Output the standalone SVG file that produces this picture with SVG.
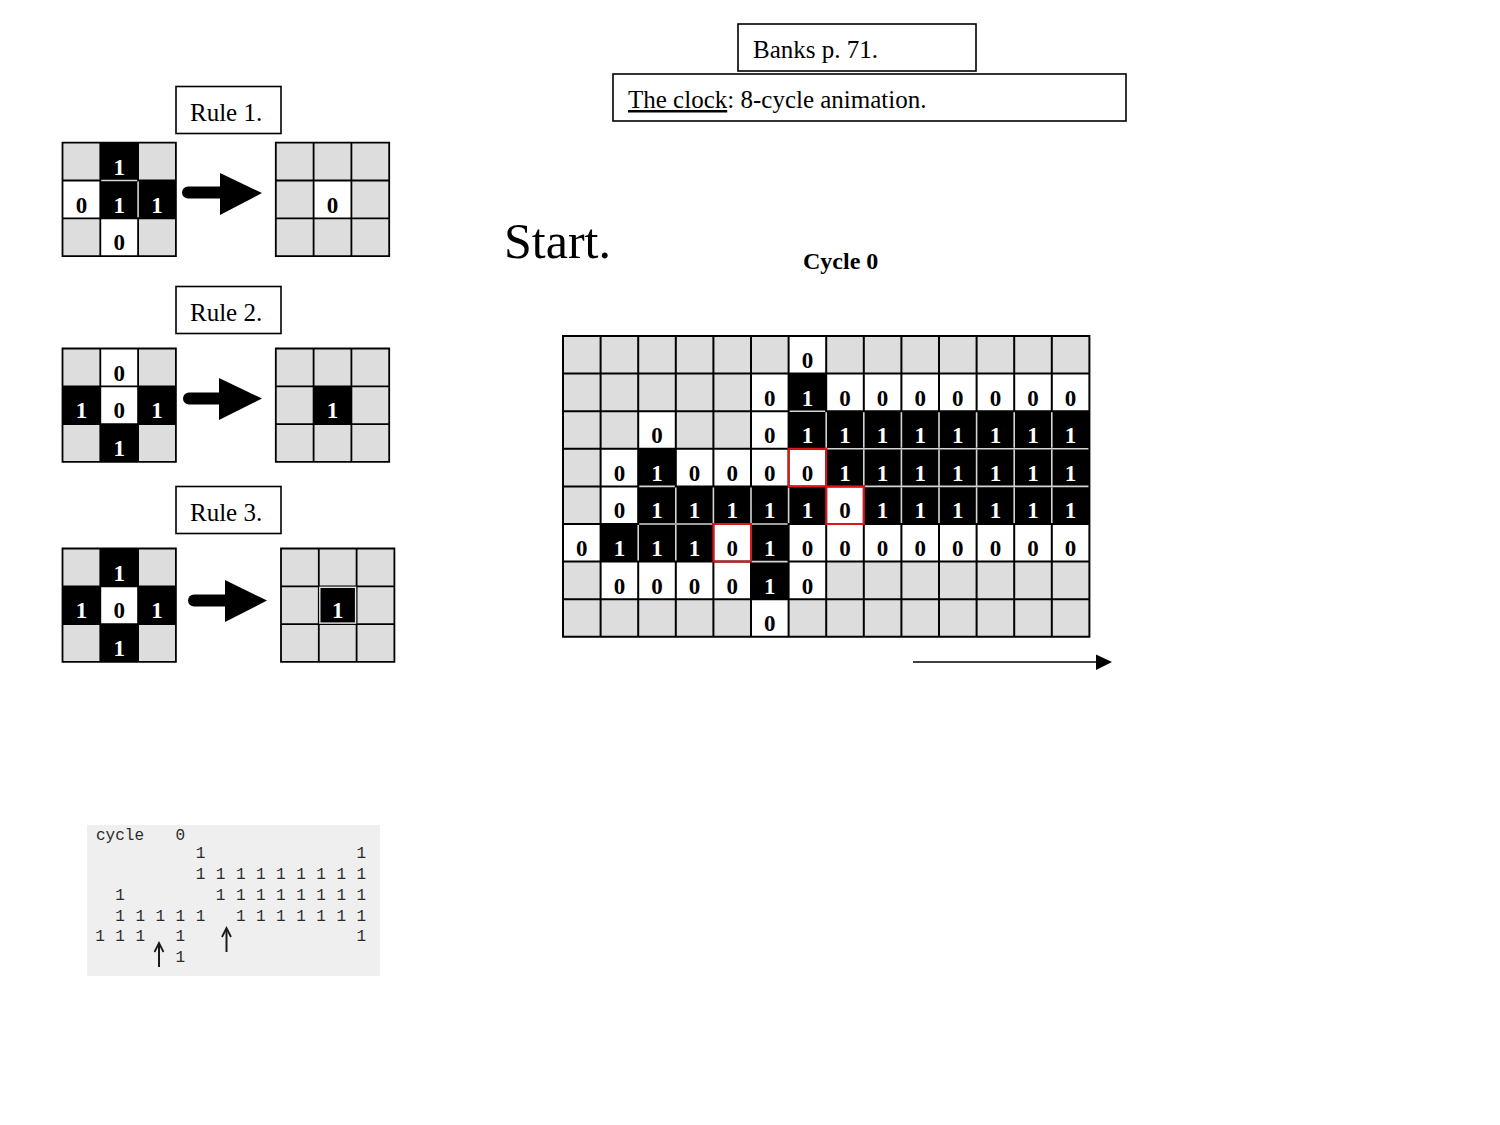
<svg xmlns="http://www.w3.org/2000/svg" width="1500" height="1125" viewBox="0 0 1500 1125">
<style>
.bg{fill:#ffffff}
.g{fill:#dddddd}
.w{fill:#ffffff}
.b{fill:#000000}
.gl{stroke:#000;stroke-width:2;fill:none}
.rgl{stroke:#000;stroke-width:1.8;fill:none}
.lt{stroke:#d4d4d4;stroke-width:1.6;fill:none}
.red{stroke:#e0141c;stroke-width:2;fill:none}
.box{fill:#fff;stroke:#000;stroke-width:1.6}
.lbl{font-family:"Liberation Serif","Times New Roman",serif;font-size:25px;fill:#000}
.d0{font-family:"Liberation Serif","Times New Roman",serif;font-size:23px;font-weight:bold;fill:#000;text-anchor:middle}
.d1{font-family:"Liberation Serif","Times New Roman",serif;font-size:23px;font-weight:bold;fill:#fff;text-anchor:middle}
.mono{font-family:"Liberation Mono","Courier New",monospace;font-size:16px;fill:#2a2a2a}
.monoc{font-family:"Liberation Mono","Courier New",monospace;font-size:16px;fill:#2a2a2a;text-anchor:middle}
</style>
<rect class="bg" x="0" y="0" width="1500" height="1125"/>

<!-- Titles -->
<g id="banks">
<rect class="box" x="738" y="24" width="238" height="47"/>
<text class="lbl" x="753" y="58">Banks p. 71.</text>
</g>
<g id="clock-title">
<rect class="box" x="613" y="74" width="513" height="47"/>
<text class="lbl" x="628" y="108"><tspan style="text-decoration:underline">The clock</tspan>: 8-cycle animation.</text>
</g>
<g id="start">
<text x="504" y="258" style="font-family:'Liberation Serif','Times New Roman',serif;font-size:50px;fill:#000">Start.</text>
</g>
<g id="cycle-label">
<text x="803" y="269" style="font-family:'Liberation Serif','Times New Roman',serif;font-size:24px;font-weight:bold;fill:#000">Cycle 0</text>
</g>

<!-- Rule 1 -->
<g id="rule1">
<rect class="box" x="176" y="86.5" width="105" height="47"/>
<text class="lbl" x="190" y="121">Rule 1.</text>
<g id="rule1-before">
<rect class="g" x="62.5" y="142.7" width="113.4" height="113.4"/>
<rect class="b" x="100.3" y="142.7" width="37.8" height="37.8"/>
<rect class="w" x="62.5" y="180.5" width="37.8" height="37.8"/>
<rect class="b" x="100.3" y="180.5" width="75.6" height="37.8"/>
<rect class="w" x="100.3" y="218.3" width="37.8" height="37.8"/>
<path class="rgl" d="M62.5,142.7H175.9V256.1H62.5Z M100.3,142.7V256.1 M138.1,142.7V256.1 M62.5,180.5H175.9 M62.5,218.3H175.9"/>
<path class="lt" d="M101.3,180.5H137.1 M138.1,181.5V217.3"/>
<text class="d1" x="119.2" y="174.7">1</text>
<text class="d0" x="81.4" y="212.5">0</text>
<text class="d1" x="119.2" y="212.5">1</text>
<text class="d1" x="157" y="212.5">1</text>
<text class="d0" x="119.2" y="250.3">0</text>
</g>
<g id="rule1-after">
<rect class="g" x="275.8" y="142.7" width="113.4" height="113.4"/>
<rect class="w" x="313.6" y="180.5" width="37.8" height="37.8"/>
<path class="rgl" d="M275.8,142.7H389.2V256.1H275.8Z M313.6,142.7V256.1 M351.4,142.7V256.1 M275.8,180.5H389.2 M275.8,218.3H389.2"/>
<text class="d0" x="332.5" y="212.5">0</text>
</g>
</g>

<!-- Rule 2 -->
<g id="rule2">
<rect class="box" x="176" y="286.5" width="105" height="47"/>
<text class="lbl" x="190" y="321">Rule 2.</text>
<g id="rule2-before">
<rect class="g" x="62.5" y="348.5" width="113.4" height="113.4"/>
<rect class="w" x="100.3" y="348.5" width="37.8" height="75.6"/>
<rect class="b" x="62.5" y="386.3" width="37.8" height="37.8"/>
<rect class="b" x="138.1" y="386.3" width="37.8" height="37.8"/>
<rect class="b" x="100.3" y="424.1" width="37.8" height="37.8"/>
<path class="rgl" d="M62.5,348.5H175.9V461.9H62.5Z M100.3,348.5V461.9 M138.1,348.5V461.9 M62.5,386.3H175.9 M62.5,424.1H175.9"/>
<text class="d0" x="119.2" y="380.5">0</text>
<text class="d1" x="81.4" y="418.3">1</text>
<text class="d0" x="119.2" y="418.3">0</text>
<text class="d1" x="157" y="418.3">1</text>
<text class="d1" x="119.2" y="456.1">1</text>
</g>
<g id="rule2-after">
<rect class="g" x="275.8" y="348.5" width="113.4" height="113.4"/>
<rect class="b" x="313.6" y="386.3" width="37.8" height="37.8"/>
<path class="rgl" d="M275.8,348.5H389.2V461.9H275.8Z M313.6,348.5V461.9 M351.4,348.5V461.9 M275.8,386.3H389.2 M275.8,424.1H389.2"/>
<text class="d1" x="332.5" y="418.3">1</text>
</g>
</g>

<!-- Rule 3 -->
<g id="rule3">
<rect class="box" x="176" y="486.5" width="105" height="47"/>
<text class="lbl" x="190" y="521">Rule 3.</text>
<g id="rule3-before">
<rect class="g" x="62.5" y="548.5" width="113.4" height="113.4"/>
<rect class="b" x="100.3" y="548.5" width="37.8" height="113.4"/>
<rect class="b" x="62.5" y="586.3" width="113.4" height="37.8"/>
<rect class="w" x="100.3" y="586.3" width="37.8" height="37.8"/>
<path class="rgl" d="M62.5,548.5H175.9V661.9H62.5Z M100.3,548.5V661.9 M138.1,548.5V661.9 M62.5,586.3H175.9 M62.5,624.1H175.9"/>
<text class="d1" x="119.2" y="580.5">1</text>
<text class="d1" x="81.4" y="618.3">1</text>
<text class="d0" x="119.2" y="618.3">0</text>
<text class="d1" x="157" y="618.3">1</text>
<text class="d1" x="119.2" y="656.1">1</text>
</g>
<g id="rule3-after">
<rect class="g" x="281" y="548.5" width="113.4" height="113.4"/>
<rect class="b" x="318.8" y="586.3" width="37.8" height="37.8"/>
<path class="rgl" d="M281,548.5H394.4V661.9H281Z M318.8,548.5V661.9 M356.6,548.5V661.9 M281,586.3H394.4 M281,624.1H394.4"/>
<rect x="319.8" y="587.3" width="35.8" height="35.8" style="fill:none;stroke:#e6e6e6;stroke-width:1.4"/>
<text class="d1" x="337.7" y="618.3">1</text>
</g>
</g>

<!-- Main grid: cycle 0 -->
<g id="cycle0-grid">
<rect class="g" x="563" y="336" width="526.4" height="300.8"/>
<!-- white cells -->
<rect class="w" x="788.6" y="336" width="37.6" height="37.6"/>
<rect class="w" x="751" y="373.6" width="37.6" height="37.6"/>
<rect class="w" x="826.2" y="373.6" width="263.2" height="37.6"/>
<rect class="w" x="638.2" y="411.2" width="37.6" height="37.6"/>
<rect class="w" x="751" y="411.2" width="37.6" height="37.6"/>
<rect class="w" x="600.6" y="448.8" width="37.6" height="37.6"/>
<rect class="w" x="675.8" y="448.8" width="150.4" height="37.6"/>
<rect class="w" x="600.6" y="486.4" width="37.6" height="37.6"/>
<rect class="w" x="826.2" y="486.4" width="37.6" height="37.6"/>
<rect class="w" x="563" y="524" width="37.6" height="37.6"/>
<rect class="w" x="713.4" y="524" width="37.6" height="37.6"/>
<rect class="w" x="788.6" y="524" width="300.8" height="37.6"/>
<rect class="w" x="600.6" y="561.6" width="150.4" height="37.6"/>
<rect class="w" x="788.6" y="561.6" width="37.6" height="37.6"/>
<rect class="w" x="751" y="599.2" width="37.6" height="37.6"/>
<!-- black cells -->
<rect class="b" x="788.6" y="373.6" width="37.6" height="37.6"/>
<rect class="b" x="788.6" y="411.2" width="300.8" height="37.6"/>
<rect class="b" x="638.2" y="448.8" width="37.6" height="37.6"/>
<rect class="b" x="826.2" y="448.8" width="263.2" height="37.6"/>
<rect class="b" x="638.2" y="486.4" width="188" height="37.6"/>
<rect class="b" x="863.8" y="486.4" width="225.6" height="37.6"/>
<rect class="b" x="600.6" y="524" width="112.8" height="37.6"/>
<rect class="b" x="751" y="524" width="37.6" height="37.6"/>
<rect class="b" x="751" y="561.6" width="37.6" height="37.6"/>
<!-- grid lines -->
<path class="gl" d="M563,336H1089.4V636.8H563Z
M600.6,336V636.8 M638.2,336V636.8 M675.8,336V636.8 M713.4,336V636.8 M751,336V636.8 M788.6,336V636.8 M826.2,336V636.8 M863.8,336V636.8 M901.4,336V636.8 M939,336V636.8 M976.6,336V636.8 M1014.2,336V636.8 M1051.8,336V636.8
M563,373.6H1089.4 M563,411.2H1089.4 M563,448.8H1089.4 M563,486.4H1089.4 M563,524H1089.4 M563,561.6H1089.4 M563,599.2H1089.4"/>
<!-- light separators between adjacent black cells -->
<path class="lt" d="M826.2,412.2V447.8 M863.8,412.2V447.8 M901.4,412.2V447.8 M939,412.2V447.8 M976.6,412.2V447.8 M1014.2,412.2V447.8 M1051.8,412.2V447.8
M863.8,449.8V485.4 M901.4,449.8V485.4 M939,449.8V485.4 M976.6,449.8V485.4 M1014.2,449.8V485.4 M1051.8,449.8V485.4
M675.8,487.4V523 M713.4,487.4V523 M751,487.4V523 M788.6,487.4V523 M901.4,487.4V523 M939,487.4V523 M976.6,487.4V523 M1014.2,487.4V523 M1051.8,487.4V523
M638.2,525V560.6 M675.8,525V560.6
M789.6,411.2H825.2
M827.2,448.8H1088.4
M639.2,486.4H674.8 M864.8,486.4H1088.4
M639.2,524H712.4 M752,524H787.6
M752,561.6H787.6"/>
<!-- highlighted cells -->
<rect class="red" x="788.6" y="448.8" width="37.6" height="37.6"/>
<rect class="red" x="826.2" y="486.4" width="37.6" height="37.6"/>
<rect class="red" x="713.4" y="524" width="37.6" height="37.6"/>
<!-- digits -->
<text class="d0" x="807.4" y="368">0</text>
<text class="d0" x="769.8" y="405.6">0</text>
<text class="d1" x="807.4" y="405.6">1</text>
<text class="d0" x="845" y="405.6">0</text>
<text class="d0" x="882.6" y="405.6">0</text>
<text class="d0" x="920.2" y="405.6">0</text>
<text class="d0" x="957.8" y="405.6">0</text>
<text class="d0" x="995.4" y="405.6">0</text>
<text class="d0" x="1033" y="405.6">0</text>
<text class="d0" x="1070.6" y="405.6">0</text>
<text class="d0" x="657" y="443.2">0</text>
<text class="d0" x="769.8" y="443.2">0</text>
<text class="d1" x="807.4" y="443.2">1</text>
<text class="d1" x="845" y="443.2">1</text>
<text class="d1" x="882.6" y="443.2">1</text>
<text class="d1" x="920.2" y="443.2">1</text>
<text class="d1" x="957.8" y="443.2">1</text>
<text class="d1" x="995.4" y="443.2">1</text>
<text class="d1" x="1033" y="443.2">1</text>
<text class="d1" x="1070.6" y="443.2">1</text>
<text class="d0" x="619.4" y="480.8">0</text>
<text class="d1" x="657" y="480.8">1</text>
<text class="d0" x="694.6" y="480.8">0</text>
<text class="d0" x="732.2" y="480.8">0</text>
<text class="d0" x="769.8" y="480.8">0</text>
<text class="d0" x="807.4" y="480.8">0</text>
<text class="d1" x="845" y="480.8">1</text>
<text class="d1" x="882.6" y="480.8">1</text>
<text class="d1" x="920.2" y="480.8">1</text>
<text class="d1" x="957.8" y="480.8">1</text>
<text class="d1" x="995.4" y="480.8">1</text>
<text class="d1" x="1033" y="480.8">1</text>
<text class="d1" x="1070.6" y="480.8">1</text>
<text class="d0" x="619.4" y="518.4">0</text>
<text class="d1" x="657" y="518.4">1</text>
<text class="d1" x="694.6" y="518.4">1</text>
<text class="d1" x="732.2" y="518.4">1</text>
<text class="d1" x="769.8" y="518.4">1</text>
<text class="d1" x="807.4" y="518.4">1</text>
<text class="d0" x="845" y="518.4">0</text>
<text class="d1" x="882.6" y="518.4">1</text>
<text class="d1" x="920.2" y="518.4">1</text>
<text class="d1" x="957.8" y="518.4">1</text>
<text class="d1" x="995.4" y="518.4">1</text>
<text class="d1" x="1033" y="518.4">1</text>
<text class="d1" x="1070.6" y="518.4">1</text>
<text class="d0" x="581.8" y="556">0</text>
<text class="d1" x="619.4" y="556">1</text>
<text class="d1" x="657" y="556">1</text>
<text class="d1" x="694.6" y="556">1</text>
<text class="d0" x="732.2" y="556">0</text>
<text class="d1" x="769.8" y="556">1</text>
<text class="d0" x="807.4" y="556">0</text>
<text class="d0" x="845" y="556">0</text>
<text class="d0" x="882.6" y="556">0</text>
<text class="d0" x="920.2" y="556">0</text>
<text class="d0" x="957.8" y="556">0</text>
<text class="d0" x="995.4" y="556">0</text>
<text class="d0" x="1033" y="556">0</text>
<text class="d0" x="1070.6" y="556">0</text>
<text class="d0" x="619.4" y="593.6">0</text>
<text class="d0" x="657" y="593.6">0</text>
<text class="d0" x="694.6" y="593.6">0</text>
<text class="d0" x="732.2" y="593.6">0</text>
<text class="d1" x="769.8" y="593.6">1</text>
<text class="d0" x="807.4" y="593.6">0</text>
<text class="d0" x="769.8" y="631.2">0</text>
</g>

<!-- Scanned original listing -->
<g id="original-listing">
<rect x="87" y="825" width="293" height="151" fill="#efefef"/>
<text class="mono" x="96" y="840">cycle</text>
<text class="monoc" x="180.4" y="840">0</text>
<text class="monoc" x="200.5 361.3" y="858">11</text>
<text class="monoc" x="200.5 220.6 240.7 260.8 280.9 301 321.1 341.2 361.3" y="879">111111111</text>
<text class="monoc" x="120.1 220.6 240.7 260.8 280.9 301 321.1 341.2 361.3" y="900">111111111</text>
<text class="monoc" x="120.1 140.2 160.3 180.4 200.5 240.7 260.8 280.9 301 321.1 341.2 361.3" y="921">111111111111</text>
<text class="monoc" x="100 120.1 140.2 180.4 361.3" y="941">11111</text>
<text class="monoc" x="180.4" y="962">1</text>
<path d="M159,967V945 M226.5,952V930" stroke="#1a1a1a" stroke-width="2" fill="none"/>
<path d="M154.5,952L159,943L163.5,952 M222,937L226.5,928L231,937" stroke="#1a1a1a" stroke-width="1.8" fill="none"/>
</g>

<!-- Connectors -->
<g id="connectors">
<g id="rule1-arrow">
<path d="M188,186.5H222V198.5H188A6,6 0 0 1 188,186.5Z" fill="#000"/>
<polygon points="220,173 262,193 220,215" fill="#000"/>
</g>
<g id="rule2-arrow">
<path d="M189,392.5H222V404.5H189A6,6 0 0 1 189,392.5Z" fill="#000"/>
<polygon points="219,378 262,398.5 219,420" fill="#000"/>
</g>
<g id="rule3-arrow">
<path d="M194,594.5H227V606.5H194A6,6 0 0 1 194,594.5Z" fill="#000"/>
<polygon points="225,580 267,600.5 225,622" fill="#000"/>
</g>
<g id="time-arrow">
<line x1="913" y1="662" x2="1098" y2="662" stroke="#000" stroke-width="1.6"/>
<polygon points="1096,654.5 1112,662 1096,670" fill="#000"/>
</g>
</g>
</svg>
